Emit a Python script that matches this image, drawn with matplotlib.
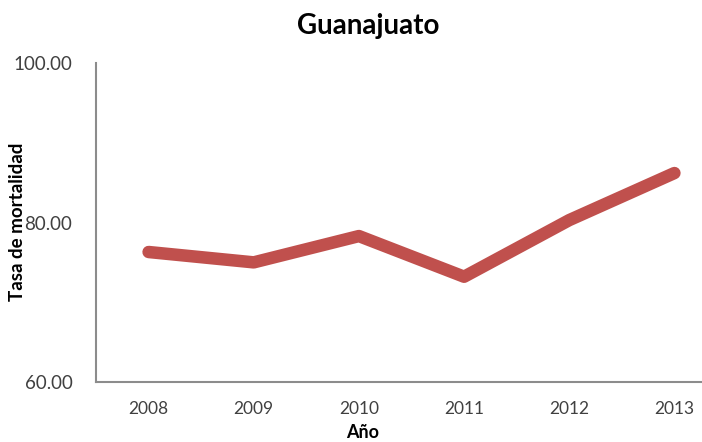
import matplotlib
matplotlib.use("Agg")
import matplotlib.pyplot as plt
from matplotlib.ticker import FormatStrFormatter

years = ["2008", "2009", "2010", "2011", "2012", "2013"]
values = [76.3, 75.0, 78.3, 73.2, 80.3, 86.2]
yticks = [60, 80, 100]

W, H = 702, 442
fig = plt.figure(figsize=(W/100, H/100), dpi=100)
left, right, top, bottom = 96, 727, 63, 382
ax = fig.add_axes([left/W, 1-bottom/H, (right-left)/W, (bottom-top)/H])

x = list(range(len(years)))
ax.plot(x, values, color="#C0504D", lw=9, solid_capstyle="round", solid_joinstyle="round")
ax.set_xlim(-0.5, len(years)-0.5)
ax.set_ylim(60, 100)
ax.set_yticks(yticks)
ax.yaxis.set_major_formatter(FormatStrFormatter("%.2f"))
ax.set_xticks(x)
ax.set_xticklabels(years)

for s in ["top", "right"]:
    ax.spines[s].set_visible(False)
for s in ["left", "bottom"]:
    ax.spines[s].set_color("#8c8c8c")
    ax.spines[s].set_linewidth(1.5)

ax.tick_params(axis="y", length=0, pad=17, labelsize=13.5, colors="#404040")
ax.tick_params(axis="x", length=0, pad=14, labelsize=12.5, colors="#404040")
for lab in ax.get_xticklabels() + ax.get_yticklabels():
    lab.set_fontfamily("Lato")

fig.text(368/W, 1-26/H, "Guanajuato", ha="center", va="center", fontsize=20, fontweight="bold", family="Lato")
fig.text(18/W, 1-222/H, "Tasa de mortalidad", ha="center", va="center", rotation=90, fontsize=13.5, fontweight="bold", family="Lato")
fig.text(363/W, 1-432/H, "Año", ha="center", va="center", fontsize=13, fontweight="bold", family="Lato")

fig.savefig("out.png", dpi=100)
